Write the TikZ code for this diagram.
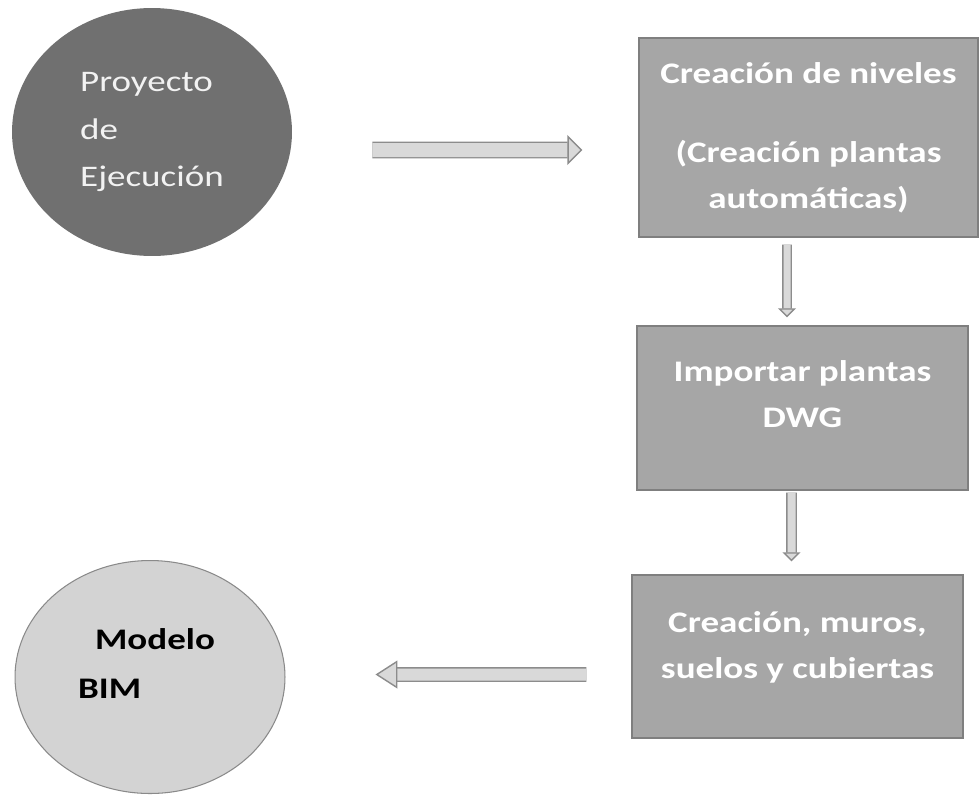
\documentclass[tikz,border=0pt]{standalone}
\usepackage{fontspec}
\setmainfont{Carlito}[FakeStretch=1.24]
\usepackage{tikz}
\usetikzlibrary{shapes.geometric}
\usetikzlibrary{arrows.meta}
\definecolor{darkfill}{HTML}{707070}
\definecolor{boxfill}{HTML}{A6A6A6}
\definecolor{boxline}{HTML}{7F7F7F}
\definecolor{lightfill}{HTML}{D3D3D3}
\definecolor{lightline}{HTML}{8A8A8A}
\definecolor{arrfill}{HTML}{D9D9D9}
\definecolor{arrline}{HTML}{8C8C8C}
\tikzset{
	darkell/.style={ellipse,fill=darkfill,inner sep=0pt,minimum width=5.6cm,minimum height=4.96cm},
	lightell/.style={ellipse,fill=lightfill,draw=lightline,semithick,inner sep=0pt,minimum width=5.4cm,minimum height=4.66cm},
	box/.style={rectangle,fill=boxfill,draw=boxline,thick,inner sep=0pt,minimum width=6.62cm},
	boxtext/.style={text=white,align=center,inner sep=0pt,font=\bfseries\fontsize{17pt}{26pt}\selectfont},
	elltext/.style={align=left,inner sep=0pt,font=\fontsize{17pt}{27pt}\selectfont},
	bigarr/.style n args={3}{draw=arrline,line width=0.8pt,double=arrfill,double distance=#1,
		-{Triangle[length=#3,width=#2,fill=arrfill]}},
	}
\begin{document}
\begin{tikzpicture}[x=0.02cm,y=-0.02cm]
\useasboundingbox (0,0) rectangle (979,795);

\node[darkell] (proy) at (152,132) {};
\node[elltext,text=white!95!black] (proytxt) at (proy.center) {Proyecto\\de\\Ejecución};

\node[box,minimum width=6.78cm,minimum height=3.98cm] (niv) at (808.5,137.5) {};
\node[boxtext] (nivtxt) at (niv.center) {Creación de niveles\\[0.68cm](Creación plantas\\automáticas)};

\node[box,minimum height=3.28cm] (dwg) at (802.5,408) {};
\node[boxtext] (dwgtxt) at ([yshift=0.28cm]dwg.center) {Importar plantas\\DWG};

\node[box,minimum height=3.26cm] (muros) at (797.5,656.5) {};
\node[boxtext] (murostxt) at ([yshift=0.18cm]muros.center) {Creación, muros,\\suelos y cubiertas};

\node[lightell] (bim) at (150,677) {};
\node[elltext,font=\bfseries\fontsize{17pt}{28pt}\selectfont] (bimtxt) at ([yshift=0.27cm,xshift=-0.07cm]bim.center) {\hspace{0.34cm}Modelo\\BIM};

\draw[bigarr={0.28cm}{0.6cm}{0.3cm},shorten <=1.6cm,shorten >=1.12cm] ([yshift=-0.36cm]proy.east) -- ([yshift=-0.25cm]niv.west);
\draw[bigarr={0.14cm}{0.36cm}{0.18cm},shorten <=0.14cm,shorten >=0.16cm] ([xshift=-0.43cm]niv.south) -- ([xshift=-0.31cm]dwg.north);
\draw[bigarr={0.16cm}{0.36cm}{0.18cm},shorten <=0.04cm,shorten >=0.26cm] ([xshift=-0.22cm]dwg.south) -- ([xshift=-0.12cm]muros.north);
\draw[bigarr={0.24cm}{0.56cm}{0.44cm},shorten <=0.9cm,shorten >=1.8cm] ([yshift=-0.36cm]muros.west) -- ([yshift=0.05cm]bim.east);
\end{tikzpicture}
\end{document}
